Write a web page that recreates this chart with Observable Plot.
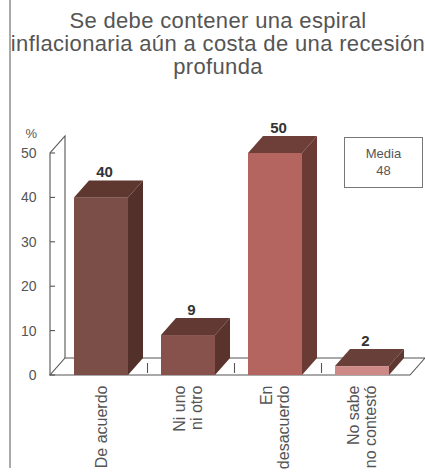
<!DOCTYPE html>
<html><head><meta charset="utf-8">
<script src="https://cdn.jsdelivr.net/npm/d3@7"></script>
<script src="https://cdn.jsdelivr.net/npm/@observablehq/plot@0.6"></script>
<style>
body{margin:0;background:#fff;}
#wrap{position:relative;width:425px;height:474px;overflow:hidden;font-family:"Liberation Sans",Arial,sans-serif;background:#fff;}
#chart{position:absolute;left:0;top:0;}
#title{position:absolute;left:2px;top:9px;width:432px;text-align:center;font-size:22px;line-height:23px;color:#555;letter-spacing:0.35px;}
#border{position:absolute;left:9px;top:0;width:2px;height:468px;background:#aaa;}
#media{position:absolute;left:344px;top:137px;width:79px;height:51px;border:1px solid #777;box-sizing:border-box;text-align:center;font-size:13px;line-height:17px;padding-top:7px;color:#555;font-family:"Liberation Sans Narrow","Liberation Sans",sans-serif;}
</style></head>
<body>
<div id="wrap">
  <div id="chart"></div>
  <div id="border"></div>
  <div id="title"></div>
  <div id="media"></div>
</div>
<script>
const titleText = "Se debe contener una espiral<br>inflacionaria aún a costa de una recesión<br>profunda";
const categories = ["De acuerdo", "Ni uno\nni otro", "En\ndesacuerdo", "No sabe\nno contestó"];
const values = [40, 9, 50, 2];
const yTicks = [0, 10, 20, 30, 40, 50];
const yLabel = "%";
const mediaLabel = "Media";
const mediaValue = 48;

const frontColors = ["#7b4e47", "#87514c", "#b4655f", "#cc8985"];
const topColors   = ["#5e372f", "#623a33", "#6e3f38", "#684039"];
const sideColors  = ["#54302a", "#5a332d", "#6a3b35", "#5e3933"];

const data = categories.map((c, i) => ({cat: c, value: values[i], i}));
const DX = 15, DY = -17;

document.getElementById("title").innerHTML = titleText;
document.getElementById("media").innerHTML = mediaLabel + "<br>" + mediaValue;

const bandOf = (s) => (typeof s.bandwidth === "function" ? s.bandwidth() : s.bandwidth);

function wall(index, scales, vals, dim) {
  const g = d3.create("svg:g").attr("fill", "none").attr("stroke", "#555").attr("stroke-width", 1.1);
  const y0 = scales.y(0), yt = scales.y(d3.max(yTicks));
  const xl = dim.marginLeft - 5;
  const xr = dim.width - dim.marginRight + 1;
  g.append("path").attr("d", `M${xl},${y0}L${xr},${y0}L${xr + DX},${y0 + DY}L${xl + DX},${y0 + DY}Z`).attr("fill", "#fff");
  g.append("path").attr("d", `M${xl},${y0}L${xl},${yt}L${xl + DX},${yt + DY}L${xl + DX},${y0 + DY}`);
  for (const t of yTicks) {
    g.append("line").attr("x1", xl).attr("x2", xl + 5).attr("y1", scales.y(t)).attr("y2", scales.y(t));
  }
  const bw = bandOf(scales.x);
  for (let i = 0; i < categories.length - 1; i++) {
    const mid = (scales.x(categories[i]) + bw + scales.x(categories[i + 1])) / 2 + 3;
    g.append("line").attr("x1", mid).attr("x2", mid).attr("y1", y0 - 12).attr("y2", y0 - 2);
  }
  return g.node();
}

function faces(index, scales, vals, dim) {
  const g = d3.create("svg:g");
  const bw = bandOf(scales.x);
  for (const d of data) {
    const x0 = scales.x(d.cat), x1 = x0 + bw;
    const yt = scales.y(d.value), yb = scales.y(0);
    g.append("path")
      .attr("d", `M${x0},${yt}L${x0 + DX},${yt + DY}L${x1 + DX},${yt + DY}L${x1},${yt}Z`)
      .attr("fill", topColors[d.i]);
    g.append("path")
      .attr("d", `M${x1},${yt}L${x1 + DX},${yt + DY}L${x1 + DX},${yb + DY}L${x1},${yb}Z`)
      .attr("fill", sideColors[d.i]);
  }
  return g.node();
}

const narrow = "Liberation Sans Narrow, Liberation Sans, sans-serif";
const chart = Plot.plot({
  width: 425,
  height: 474,
  marginLeft: 55,
  marginRight: 16,
  marginTop: 153,
  marginBottom: 99,
  style: {background: "transparent", overflow: "visible", fontFamily: "Liberation Sans, Arial, sans-serif"},
  x: {domain: categories, paddingInner: 0.375, paddingOuter: 0.2, axis: null},
  y: {domain: [0, 50], axis: null},
  marks: [
    wall,
    Plot.axisY({ticks: yTicks, tickSize: 0, tickPadding: 19, fontSize: 14, color: "#555", label: null, fontFamily: narrow}),
    Plot.text([yLabel], {frameAnchor: "top-left", dx: -30, dy: -25, fontSize: 13, fill: "#555"}),
    Plot.barY(data, {x: "cat", y: "value", fill: (d) => frontColors[d.i]}),
    faces,
    Plot.text(data, {x: "cat", y: "value", text: (d) => String(d.value), dx: 3, dy: DY - 4, lineAnchor: "bottom",
      fontSize: 15, fontWeight: "bold", fill: "#333", fontFamily: narrow}),
    Plot.text(data, {x: "cat", text: "cat", frameAnchor: "bottom", rotate: -90, textAnchor: "end",
      lineAnchor: "middle", dy: 10, fontSize: 16, lineHeight: 1.06, fill: "#555"})
  ]
});
document.getElementById("chart").appendChild(chart);
</script>
</body></html>
